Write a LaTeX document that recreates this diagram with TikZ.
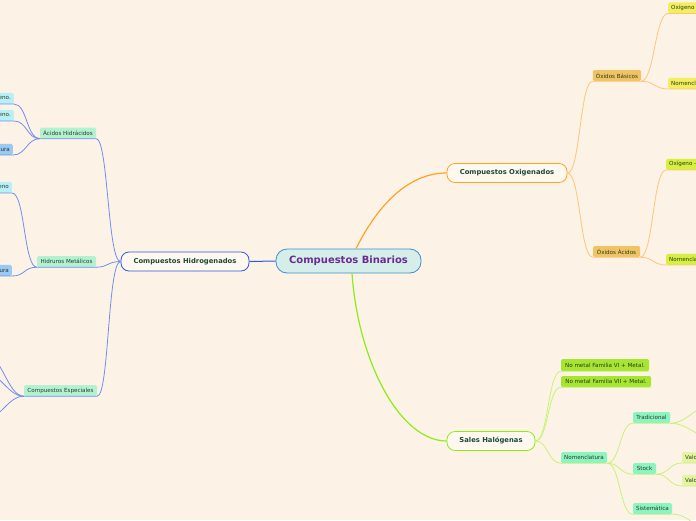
\documentclass[tikz,border=0pt]{standalone}
\usepackage{fontspec}
\setmainfont{DejaVu Sans}
\definecolor{bg}{HTML}{FDF2E6}
\definecolor{mainb}{HTML}{3E8DD0}
\definecolor{mainf}{HTML}{D5EEEA}
\definecolor{mainT}{HTML}{6A2C92}
\definecolor{lvT}{HTML}{1C4A38}
\definecolor{smT}{HTML}{2A3A22}
\definecolor{blueA}{HTML}{2A58E0}
\definecolor{blueB}{HTML}{6E8EF0}
\definecolor{orA}{HTML}{FFA326}
\definecolor{orB}{HTML}{FFC57A}
\definecolor{grA}{HTML}{8AEE10}
\definecolor{grB}{HTML}{C6F27A}
\definecolor{mint}{HTML}{B2F2D2}
\definecolor{cyanL}{HTML}{B8F0F8}
\definecolor{blueL}{HTML}{98CAF4}
\definecolor{ochre}{HTML}{F0C463}
\definecolor{yel}{HTML}{F2EE5E}
\definecolor{lime}{HTML}{D6F040}
\definecolor{grleaf}{HTML}{A6E630}
\definecolor{mintB}{HTML}{8CF4C0}
\definecolor{paleL}{HTML}{E4F4A0}
\definecolor{wcream}{HTML}{FFF8EF}
\begin{document}
\begin{tikzpicture}[x=1pt,y=-1pt,
  rootbox/.style={draw=mainb, fill=mainf, line width=0.8pt, rounded corners=11pt,
    minimum width=145pt, minimum height=24pt, inner sep=0pt,
    font=\fontsize{10}{12}\selectfont\bfseries, text=mainT},
  lvlone/.style={fill=wcream, line width=0.8pt, rounded corners=8pt, minimum height=19pt,
    inner sep=0pt, font=\fontsize{6.8}{8}\selectfont\bfseries, text=lvT},
  smallbox/.style={rounded corners=1.5pt, minimum height=11pt, inner sep=0pt, inner xsep=3pt,
    font=\fontsize{5.6}{6.5}\selectfont, text=smT},
  conn/.style={line width=0.8pt},
]
\useasboundingbox (0,0) rectangle (696,520);
\fill[bg] (0,0) rectangle (696,520);
\clip (0,0) rectangle (696,520);

% root and first level
\node[rootbox] (bin) at (348.5,261) {Compuestos Binarios};
\node[lvlone, draw=blueA, minimum width=128pt] (hid) at (185,261.5) {Compuestos Hidrogenados};
\node[lvlone, draw=orA, minimum width=120pt] (oxi) at (507,173) {Compuestos Oxigenados};
\node[lvlone, draw=grA, minimum width=88pt] (sal) at (491,441) {Sales Halógenas};

% left: hidrogenados
\node[smallbox, fill=mint, minimum width=56pt] (acid) at (68,133) {Ácidos Hidrácidos};
\node[smallbox, fill=mint, minimum width=59pt] (hmet) at (66.5,261.5) {Hidruros Metálicos};
\node[smallbox, fill=mint, minimum width=73pt] (cesp) at (60.5,390.5) {Compuestos Especiales};
\node[smallbox, fill=cyanL, anchor=south east] (a1) at (14,104) {No metal Familia VI + Hidrógeno.};
\node[smallbox, fill=cyanL, anchor=south east] (a2) at (14,121) {No metal Familia VII + Hidrógeno.};
\node[smallbox, fill=blueL, anchor=south east] (a3) at (13,155) {Nomenclatura};
\node[smallbox, fill=cyanL, anchor=south east] (h1) at (12,193) {Metal + Hidrógeno};
\node[smallbox, fill=blueL, anchor=south east] (h2) at (12,276) {Nomenclatura};
\coordinate (e1) at (-14,355);
\coordinate (e2) at (-14,374);
\coordinate (e3) at (-14,418);

% right top: oxigenados
\node[smallbox, fill=ochre, minimum width=48pt] (oxb) at (617,75.5) {Óxidos Básicos};
\node[smallbox, fill=ochre, minimum width=47pt] (oxa) at (616.5,251.5) {Óxidos Ácidos};
\node[smallbox, fill=yel, anchor=south west] (b1) at (668,13.5) {Oxígeno + Metal};
\node[smallbox, fill=yel, anchor=south west] (b2) at (668,89) {Nomenclatura};
\node[smallbox, fill=lime, anchor=south west] (c1) at (666,170) {Oxígeno - No metal};
\node[smallbox, fill=lime, anchor=south west] (c2) at (666,265) {Nomenclatura};

% right bottom: sales
\node[smallbox, fill=grleaf, minimum width=88pt, minimum height=12pt] (s1) at (605,365) {No metal Familia VI + Metal.};
\node[smallbox, fill=grleaf, minimum width=90pt] (s2) at (606,381.5) {No metal Familia VII + Metal.};
\node[smallbox, fill=mintB, minimum width=46pt] (snom) at (584,457.5) {Nomenclatura};
\node[smallbox, fill=mintB, minimum width=37pt] (trad) at (651.5,417.5) {Tradicional};
\node[smallbox, fill=mintB, minimum width=23pt] (stock) at (644.5,468.5) {Stock};
\node[smallbox, fill=mintB, minimum width=39pt] (sist) at (652.5,508.5) {Sistemática};
\node[smallbox, fill=paleL, anchor=south west] (v1) at (682,463) {Valor romano};
\node[smallbox, fill=paleL, anchor=south west] (v2) at (682,486) {Valor romano};
\coordinate (t1) at (714,404);
\coordinate (t2) at (714,438);
\coordinate (si1) at (712,530);

% root connectors
\draw[blueA, line width=1pt] (bin.west) -- (hid.east);
\draw[orA, line width=1.2pt] ([xshift=7.5pt]bin.north) .. controls +(22,-44) and +(-38,0) .. (oxi.west);
\draw[grA, line width=1.2pt] ([xshift=3.5pt]bin.south) .. controls +(6,87) and +(-47,0) .. (sal.west);

% hidrogenados connectors
\draw[blueB, conn] (hid.west) .. controls +(-13,0) and +(12,0) .. (acid.south east) -- (acid.south west);
\draw[blueB, conn] (hid.west) .. controls +(-13,0) and +(12,0) .. (hmet.south east) -- (hmet.south west);
\draw[blueB, conn] (hid.west) .. controls +(-13,0) and +(12,0) .. (cesp.south east) -- (cesp.south west);
\draw[blueB, conn] (acid.south west) .. controls +(-13,0) and +(13,0) .. (a1.south east) -- (a1.south west);
\draw[blueB, conn] (acid.south west) .. controls +(-13,0) and +(13,0) .. (a2.south east) -- (a2.south west);
\draw[blueB, conn] (acid.south west) .. controls +(-13,0) and +(13,0) .. (a3.south east) -- (a3.south west);
\draw[blueB, conn] (hmet.south west) .. controls +(-13,0) and +(13,0) .. (h1.south east) -- (h1.south west);
\draw[blueB, conn] (hmet.south west) .. controls +(-13,0) and +(13,0) .. (h2.south east) -- (h2.south west);
\draw[blueB, conn] (cesp.south west) .. controls +(-16,0) and +(16,0) .. (e1);
\draw[blueB, conn] (cesp.south west) .. controls +(-16,0) and +(16,0) .. (e2);
\draw[blueB, conn] (cesp.south west) .. controls +(-16,0) and +(16,0) .. (e3);

% oxigenados connectors
\draw[orB, conn] (oxi.east) .. controls +(13,0) and +(-13,0) .. (oxb.south west) -- (oxb.south east);
\draw[orB, conn] (oxi.east) .. controls +(13,0) and +(-13,0) .. (oxa.south west) -- (oxa.south east);
\draw[orB, conn] (oxb.south east) .. controls +(13,0) and +(-13,0) .. (b1.south west) -- (b1.south east);
\draw[orB, conn] (oxb.south east) .. controls +(13,0) and +(-13,0) .. (b2.south west) -- (b2.south east);
\draw[orB, conn] (oxa.south east) .. controls +(13,0) and +(-13,0) .. (c1.south west) -- (c1.south east);
\draw[orB, conn] (oxa.south east) .. controls +(13,0) and +(-13,0) .. (c2.south west) -- (c2.south east);

% sales connectors
\draw[grB, conn] (sal.east) .. controls +(13,0) and +(-13,0) .. (s1.south west) -- (s1.south east);
\draw[grB, conn] (sal.east) .. controls +(13,0) and +(-13,0) .. (s2.south west) -- (s2.south east);
\draw[grB, conn] (sal.east) .. controls +(13,0) and +(-13,0) .. (snom.south west) -- (snom.south east);
\draw[grB, conn] (snom.south east) .. controls +(13,0) and +(-13,0) .. (trad.south west) -- (trad.south east);
\draw[grB, conn] (snom.south east) .. controls +(13,0) and +(-13,0) .. (stock.south west) -- (stock.south east);
\draw[grB, conn] (snom.south east) .. controls +(13,0) and +(-13,0) .. (sist.south west) -- (sist.south east);
\draw[grB, conn] (trad.south east) .. controls +(18,0) and +(-18,0) .. (t1);
\draw[grB, conn] (trad.south east) .. controls +(18,0) and +(-18,0) .. (t2);
\draw[grB, conn] (stock.south east) .. controls +(13,0) and +(-13,0) .. (v1.south west) -- (v1.south east);
\draw[grB, conn] (stock.south east) .. controls +(13,0) and +(-13,0) .. (v2.south west) -- (v2.south east);
\draw[grB, conn] (sist.south east) .. controls +(18,0) and +(-18,0) .. (si1);
\end{tikzpicture}
\end{document}
